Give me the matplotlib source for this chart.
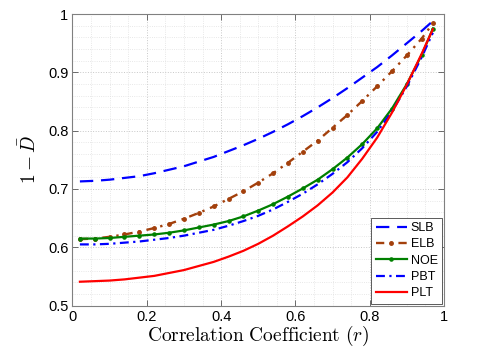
import numpy as np
import matplotlib
matplotlib.use("Agg")
import matplotlib.pyplot as plt
from matplotlib.ticker import MultipleLocator

# data
r = [0.02, 0.06, 0.10, 0.14, 0.18, 0.22, 0.26, 0.30, 0.34, 0.38, 0.42, 0.46, 0.50,
     0.54, 0.58, 0.62, 0.66, 0.70, 0.74, 0.78, 0.82, 0.86, 0.90, 0.94, 0.97]

slb = [0.713, 0.714, 0.716, 0.719, 0.722, 0.727, 0.733, 0.739, 0.747, 0.755, 0.765, 0.775, 0.786,
       0.798, 0.811, 0.825, 0.840, 0.856, 0.873, 0.891, 0.909, 0.929, 0.950, 0.971, 0.988]
elb = [0.614, 0.615, 0.618, 0.622, 0.627, 0.633, 0.640, 0.649, 0.659, 0.670, 0.683, 0.696, 0.711,
       0.727, 0.745, 0.764, 0.783, 0.805, 0.827, 0.851, 0.876, 0.902, 0.929, 0.958, 0.984]
noe = [0.615, 0.615, 0.616, 0.618, 0.620, 0.622, 0.625, 0.629, 0.634, 0.639, 0.645, 0.653, 0.663,
       0.674, 0.687, 0.701, 0.716, 0.734, 0.754, 0.777, 0.804, 0.838, 0.880, 0.930, 0.975]
pbt = [0.605, 0.605, 0.606, 0.608, 0.610, 0.613, 0.616, 0.620, 0.625, 0.630, 0.637, 0.645, 0.654,
       0.665, 0.678, 0.692, 0.708, 0.726, 0.746, 0.770, 0.798, 0.833, 0.876, 0.926, 0.968]
plt_ = [0.541, 0.542, 0.543, 0.545, 0.548, 0.551, 0.556, 0.561, 0.568, 0.575, 0.584, 0.594, 0.606,
        0.620, 0.636, 0.653, 0.672, 0.694, 0.720, 0.752, 0.788, 0.831, 0.879, 0.932, 0.974]

xticks = [0, 0.2, 0.4, 0.6, 0.8, 1]
xticklabels = ["0", "0.2", "0.4", "0.6", "0.8", "1"]
yticks = [0.5, 0.6, 0.7, 0.8, 0.9, 1]
yticklabels = ["0.5", "0.6", "0.7", "0.8", "0.9", "1"]

plt.rcParams["font.family"] = ["Liberation Sans", "DejaVu Sans"]
plt.rcParams["mathtext.fontset"] = "cm"

fig = plt.figure(figsize=(4.8, 3.6), dpi=100)
ax = fig.add_axes([0.151, 0.151, 0.774, 0.810])

ax.plot(r, slb, color="#0000ff", lw=1.6, ls=(0, (6, 3.5)), label="SLB")
ax.plot(r, elb, color="#a3400c", lw=1.7, ls=(0, (3.5, 2.5, 1, 2.5)),
        marker=".", markersize=5, label="ELB")
ax.plot(r, noe, color="#008000", lw=1.6, ls="-", marker=".", markersize=4.5, label="NOE")
ax.plot(r, pbt, color="#0000ff", lw=1.6, ls=(0, (4, 2, 1, 2)), label="PBT")
ax.plot(r, plt_, color="#ff0000", lw=1.6, ls="-", label="PLT")

ax.set_xlim(0, 1)
ax.set_ylim(0.5, 1)
ax.set_xticks(xticks)
ax.set_xticklabels(xticklabels)
ax.set_yticks(yticks)
ax.set_yticklabels(yticklabels)
ax.xaxis.set_minor_locator(MultipleLocator(0.05))
ax.yaxis.set_minor_locator(MultipleLocator(0.02))
ax.tick_params(which="major", direction="in", length=4, width=0.6, color="#555555",
               labelsize=10.5, top=True, right=True, pad=3)
ax.tick_params(which="minor", length=0, top=True, right=True)

ax.grid(which="major", ls=":", color="#c8c8c8", lw=0.7)
ax.grid(which="minor", ls=":", color="#e0e0e0", lw=0.6)
ax.set_axisbelow(True)
for s in ax.spines.values():
    s.set_color("#808080")
    s.set_linewidth(0.8)

ax.set_xlabel(r"$\mathrm{Correlation\ Coefficient}\ (r)$", fontsize=14, labelpad=0)
ax.set_ylabel(r"$1-\bar{D}$", fontsize=14, labelpad=6)

leg = ax.legend(loc="lower right", fontsize=9, handlelength=2.5, handletextpad=0.3,
                labelspacing=0.35, borderpad=0.35, borderaxespad=0.15,
                fancybox=False, framealpha=1, edgecolor="#404040")
leg.get_frame().set_linewidth(0.6)

fig.savefig("out.png", dpi=100)
